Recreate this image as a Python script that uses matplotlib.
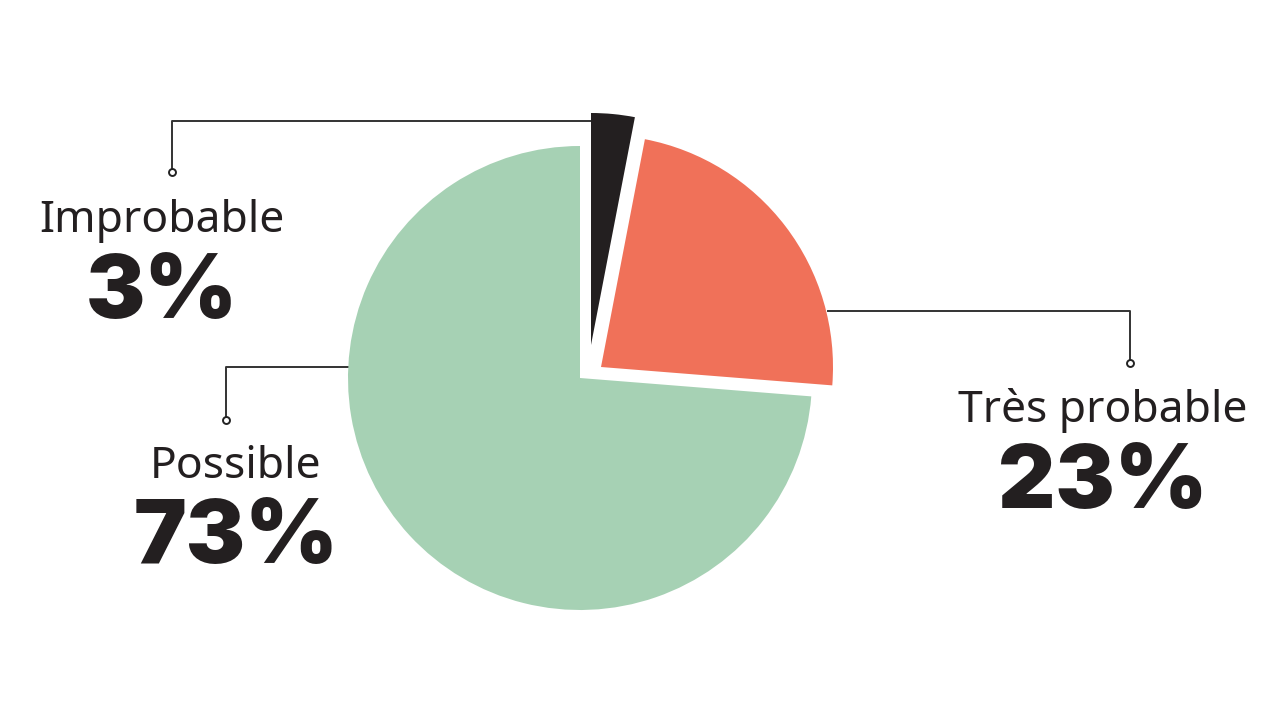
import matplotlib.pyplot as plt

# donnees
categories = ["Improbable", "Très probable", "Possible"]
valeurs = [3, 23, 73]
couleurs = ["#231f20", "#f07159", "#a6d1b4"]

# decalage de chaque part (pixels)
decalages = [(11, 33), (21, 11), (0, 0)]

fig = plt.figure(figsize=(12.8, 7.2), dpi=100)
ax = fig.add_axes([0, 0, 1, 1])

cx, cy, r = 580, 342, 232
wedges, _ = ax.pie(valeurs, colors=couleurs, startangle=90, counterclock=False,
                   center=(cx, cy), radius=r, frame=True)
for w, (dx, dy) in zip(wedges, decalages):
    w.set_center((cx + dx, cy + dy))
ax.set_xlim(0, 1280)
ax.set_ylim(0, 720)
ax.axis("off")

# traits de rappel
ligne = dict(color="#333333", lw=1.4, zorder=0)
rappels = [
    [(590, 599), (172, 599), (172, 548)],
    [(828, 409), (1130, 409), (1130, 357)],
    [(348, 353), (226, 353), (226, 300)],
]
for pts in rappels:
    xs, ys = zip(*pts)
    ax.plot(xs, ys, **ligne)
    ax.plot(xs[-1], ys[-1], "o", ms=5, mfc="white", mec="#222222", mew=1.4)

# etiquettes
positions = {"Improbable": (162, 488, 402), "Très probable": (1103, 298, 212),
             "Possible": (236, 242, 157)}
for cat, val in zip(categories, valeurs):
    x, y1, y2 = positions[cat]
    ax.text(x, y1, cat, ha="center", va="baseline", fontsize=32,
            family=["Noto Sans", "DejaVu Sans"], color="#231f20")
    ax.text(x, y2, f"{val}%", ha="center", va="baseline", fontsize=64,
            family=["Inter", "DejaVu Sans"], fontweight="black", color="#231f20")

fig.savefig("out.png", dpi=100, facecolor="white")
